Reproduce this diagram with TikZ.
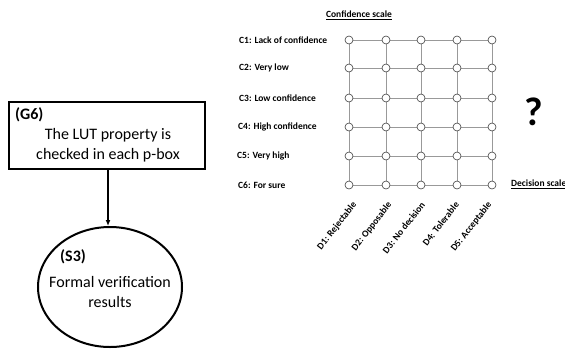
\documentclass[tikz,border=0pt]{standalone}
\usepackage{fontspec}
\setmainfont{Carlito}
\usetikzlibrary{arrows.meta,shapes.geometric}
\begin{document}
\begin{tikzpicture}[x=1pt,y=-1pt,
  gridline/.style={draw=black!40, line width=0.8pt},
  dot/.style={circle, draw=black!75, fill=white, line width=0.6pt, minimum size=8pt, inner sep=0pt},
  lab/.style={font=\fontsize{9.5}{11}\selectfont\bfseries, anchor=west, inner sep=0pt},
  dlab/.style={font=\fontsize{9.5}{11}\selectfont\bfseries, anchor=east, rotate=52, inner sep=0pt},
  bigtext/.style={font=\fontsize{16}{20}\selectfont, align=center, inner sep=0pt}]
\useasboundingbox (0,0) rectangle (565,349);
% grid
\foreach \c/\x in {1/349,2/386,3/421,4/457,5/492}{
  \foreach \r/\y in {1/40,2/68,3/98,4/127,5/156,6/185}{
    \coordinate (p\c\r) at (\x,\y);
  }
}
\foreach \r in {1,...,6}{ \draw[gridline] (p1\r) -- (p5\r); }
\foreach \c in {1,...,5}{ \draw[gridline] (p\c1) -- (p\c6); }
\foreach \c in {1,...,5}{ \foreach \r in {1,...,6}{ \node[dot] (n\c\r) at (p\c\r) {}; } }
% row labels
\node[lab] (c1) at (239,40) {C1: Lack of confidence};
\node[lab] (c2) at (239,68) {C2: Very low};
\node[lab] (c3) at (239,98) {C3: Low confidence};
\node[lab] (c4) at (238,127) {C4: High confidence};
\node[lab] (c5) at (237,156) {C5: Very high};
\node[lab] (c6) at (238,185) {C6: For sure};
% column labels
\node[dlab] (d1) at (355,203) {D1: Rejectable};
\node[dlab] (d2) at (390,203) {D2: Opposable};
\node[dlab] (d3) at (423,203) {D3: No decision};
\node[dlab] (d4) at (457,203) {D4: Tolerable};
\node[dlab] (d5) at (490,203) {D5: Acceptable};
% titles
\node[font=\fontsize{9.5}{11}\selectfont\bfseries, inner sep=0pt] (cs) at (359,15) {\underline{Confidence scale}};
\node[font=\fontsize{9.5}{11}\selectfont\bfseries, anchor=west, inner sep=0pt] (ds) at (511,184) {\underline{Decision scale}};
\node[font=\fontsize{40}{40}\selectfont\bfseries, inner sep=0pt] (q) at (534,112) {?};
% left part
\node[draw, line width=2.6pt, minimum width=196pt, minimum height=67pt, inner sep=0pt] (g6) at (107,135.5) {};
\node[font=\fontsize{16}{18}\selectfont\bfseries, anchor=west, inner sep=0pt] (g6t) at (15,115) {(G6)};
\node[bigtext] (g6b) at (108,145) {The LUT property is\\checked in each p-box};
\node[draw, ellipse, line width=2pt, minimum width=144pt, minimum height=120pt, inner sep=0pt] (s3) at (110,287) {};
\node[font=\fontsize{16}{18}\selectfont\bfseries, anchor=west, inner sep=0pt] (s3t) at (60,257) {(S3)};
\node[bigtext] (s3b) at (110,292) {Formal verification\\results};
\coordinate (a1) at (108,170);
\coordinate (a2) at (108,226);
\draw[line width=1.3pt, -{Latex[length=6pt,width=5pt]}] (a1) -- (a2);
\end{tikzpicture}
\end{document}
